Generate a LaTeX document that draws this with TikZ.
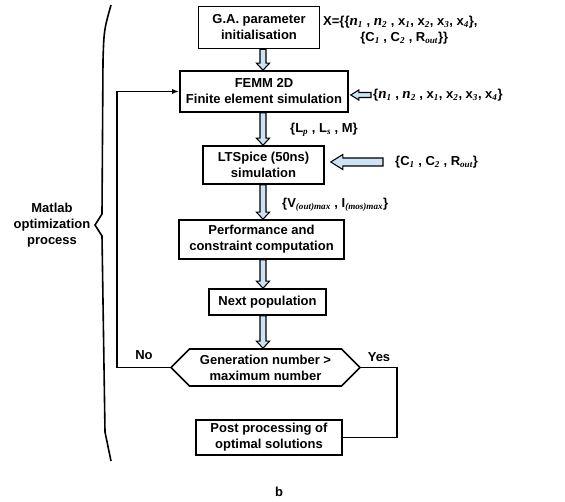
\documentclass[tikz,border=0pt]{standalone}
\usepackage{fontspec}
\setmainfont{Liberation Sans}
\newfontfamily\tms{Liberation Serif}
\usetikzlibrary{arrows.meta,shapes.symbols,calc}
\definecolor{arrowblue}{RGB}{204,227,246}

\newcommand{\sbx}[1]{\textsubscript{\tms\itshape #1}}
\newcommand{\nn}[1]{{\tms\bfseries\itshape\fontsize{15}{16}\selectfont n}\sbx{#1}}

% block arrow pointing down, from box #1 to box #2 on the axis
\newcommand{\downblock}[2]{%
\draw[blockarrow] let \p1=(#1.south -| axis), \p2=(#2.north -| axis) in
  (\x1-3pt,\y1) -- (\x1-3pt,\y2+7pt) -- (\x1-6.5pt,\y2+7pt) -- (\x2,\y2)
  -- (\x1+6.5pt,\y2+7pt) -- (\x1+3pt,\y2+7pt) -- (\x1+3pt,\y1) -- cycle;}

% block arrow pointing left: tail #1, tip #2, half shaft #3, half head #4, head length #5
\newcommand{\leftblock}[5]{%
\draw[blockarrow] let \p1=#1, \p2=#2 in
  (\x1,\y2+#3) -- (\x2+#5,\y2+#3) -- (\x2+#5,\y2+#4) -- (\x2,\y2)
  -- (\x2+#5,\y2-#4) -- (\x2+#5,\y2-#3) -- (\x1,\y2-#3) -- cycle;}

\begin{document}
\begin{tikzpicture}[x=1pt,y=-1pt,
  font=\fontsize{13}{16}\selectfont\bfseries,
  box/.style={draw, line width=1.6pt, align=center, inner sep=0pt},
  test/.style={draw, line width=1.6pt, align=center, inner sep=0pt,
    shape=signal, signal to=west and east, signal pointer angle=90},
  lbl/.style={inner sep=1pt},
  blockarrow/.style={draw=black, line width=1.1pt, fill=arrowblue},
  link/.style={line width=1.6pt}]

\useasboundingbox (0,0) rectangle (565,502);

%% boxes
\node[box, minimum width=121pt, minimum height=42pt] (ga) at (259,27.5) {G.A. parameter\\initialisation};
\node[box, minimum width=168pt, minimum height=41pt] (femm) at (264,91.5) {FEMM 2D\\Finite element simulation};
\node[box, minimum width=121pt, minimum height=38pt] (lts) at (263.5,165) {LTSpice (50ns)\\simulation};
\node[box, minimum width=165pt, minimum height=39pt] (perf) at (261.5,239.5) {Performance and\\constraint computation};
\node[box, minimum width=117pt, minimum height=26pt] (next) at (267.5,302) {Next population};
\node[test, minimum width=189pt, minimum height=37pt] (gen) at (265.5,367.5) {Generation number >\\maximum number};
\node[box, minimum width=146pt, minimum height=35pt] (post) at (269,437.5) {Post processing of\\optimal solutions};

\coordinate (axis) at (263,0);

%% labels
\node[lbl, anchor=west, align=center] (xset) at (322,30)
  {X=\{\{\nn{1} , \nn{2} , x\sbx{1}, x\sbx{2}, x\sbx{3}, x\sbx{4}\},\\
   \hspace*{0.6em}\{C\sbx{1} , C\sbx{2} , R\sbx{out}\}\}};
\node[lbl, anchor=west] (nfemm) at (372,95) {\{\nn{1} , \nn{2} , x\sbx{1}, x\sbx{2}, x\sbx{3}, x\sbx{4}\}};
\node[lbl, anchor=west] (lind) at (289,130) {\{L\sbx{p} , L\sbx{s} , M\}};
\node[lbl, anchor=west] (nlts) at (394,162) {\{C\sbx{1} , C\sbx{2} , R\sbx{out}\}};
\node[lbl, anchor=west] (vmax) at (281,205) {\{V\sbx{(out)max} , I\sbx{(mos)max}\}};
\node[lbl] (no) at (144,355) {No};
\node[lbl] (yes) at (379,357) {Yes};
\node[lbl, align=center] (matlab) at (52,225) {Matlab\\optimization\\process};
\node[lbl] (b) at (279,492) {b};

%% block arrows
\downblock{ga}{femm}
\downblock{femm}{lts}
\downblock{lts}{perf}
\downblock{perf}{next}
\downblock{next}{gen}
\leftblock{([xshift=-1pt]nfemm.west)}{([xshift=2pt]femm.east |- nfemm.west)}{2.5pt}{5pt}{8pt}
\leftblock{([xshift=-11pt]nlts.west)}{([xshift=6pt]lts.east |- nlts.west)}{4pt}{7.5pt}{12pt}

%% decision links
\draw[link, -{Latex[length=7pt,width=5pt]}] (gen.west) -- ++(-53,0) |- (femm.west);
\draw[link] (gen.east) -- ++(36,0) |- (post.east);

%% brace
\draw[line width=1.6pt] (111,5) .. controls (104,30) .. (103,60) -- (102,214) -- (95,225) -- (102,236) -- (105,432) -- (111,461);

\end{tikzpicture}
\end{document}
